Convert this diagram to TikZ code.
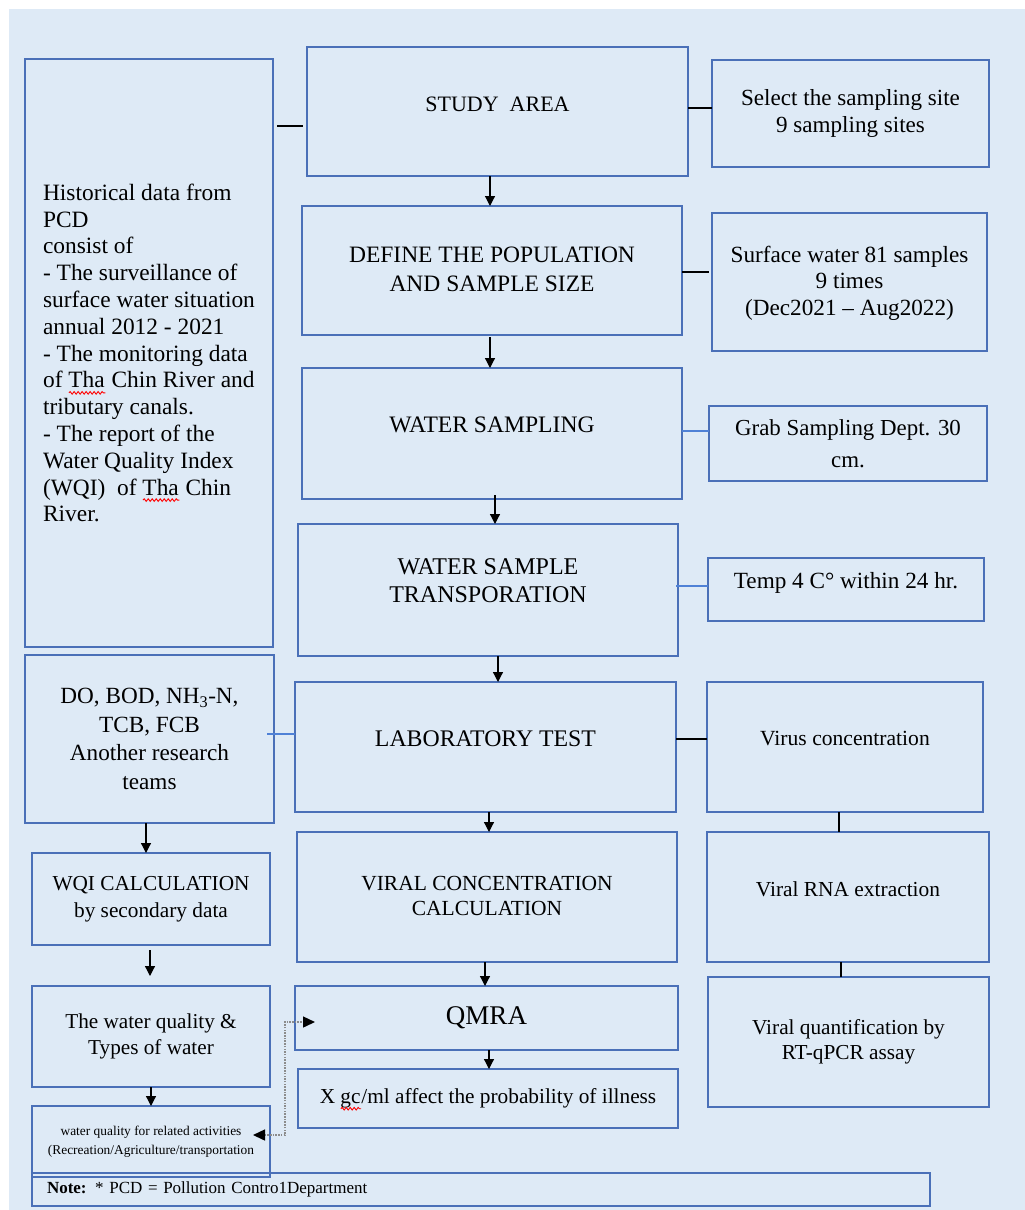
\documentclass[tikz,border=0pt]{standalone}
\usepackage{fontspec}
\setmainfont{Liberation Serif}
\usetikzlibrary{arrows.meta,calc,decorations.pathmorphing}
\definecolor{bgblue}{HTML}{DEEAF6}
\definecolor{edgeblue}{HTML}{4A70B8}
\definecolor{linkblue}{HTML}{4F81D6}
\definecolor{dotgray}{HTML}{8C8C8C}
\newdimen\wavewd
\newcommand\redwave[1]{\setbox0\hbox{#1}\wavewd=\wd0\leavevmode\rlap{\box0}\raisebox{-5pt}[0pt][0pt]{\tikz[x=1pt,y=1pt,baseline=0pt]\path[draw=red,line width=0.9pt,decorate,decoration={snake,amplitude=1.3pt,segment length=4pt}] (0,0) -- (\wavewd,0);}}
% #1 text options, #2..#5 corners, #6 name, #7 text, #8 text raise
\newcommand\bx[8][]{\node[box,anchor=north west,minimum width={(#4-#2)*1pt},minimum height={(#5-#3)*1pt}] (#6) at (#2,#3) {};
  \node[boxtext,#1] (#6-t) at ([yshift=#8]#6.center) {#7};}
\newcommand\fs[2]{\fontsize{#1}{#2}\selectfont}
\begin{document}
\begin{tikzpicture}[x=1pt,y=-1pt,
  box/.style={draw=edgeblue,line width=1.3pt,inner sep=0pt,outer sep=0pt},
  boxtext/.style={inner sep=0pt,align=center,font=\fs{23.2}{27}},
  arr/.style={-{Triangle[length=10pt,width=10pt]},line width=1.2pt,black},
  link/.style={line width=1.2pt,black},
  bluelink/.style={line width=1.2pt,linkblue},
  dotlink/.style={{Triangle[length=12pt,width=11pt,color=black]}-{Triangle[length=12pt,width=11pt,color=black]},line width=1.4pt,dotgray,dash pattern=on 1.5pt off 1.2pt}]
\useasboundingbox (0,0) rectangle (1025,1210);
\fill[white] (0,0) rectangle (1025,1210);
\fill[bgblue] (9,9) rectangle (1025,1210);

% left column
\bx[align=left,font=\fs{23.4}{26.8}]{25}{59}{273}{647}{hist}{Historical data from\\PCD\\consist of\\- The surveillance of\\surface water situation\\annual 2012 - 2021\\- The monitoring data\\of \redwave{Tha} Chin River and\\tributary canals.\\- The report of the\\Water Quality Index\\(WQI)~ of \redwave{Tha} Chin\\River.}{0pt}
\bx[font=\fs{23.2}{28.5}]{25}{655}{274}{823}{do}{DO, BOD, NH\textsubscript{3}-N,\\TCB, FCB\\Another research\\teams}{0pt}
\bx[font=\fs{21.3}{27}]{32}{853}{270}{945}{wqi}{WQI CALCULATION\\by secondary data}{0pt}
\bx[font=\fs{21.2}{25.5}]{32}{986}{270}{1087}{wq}{The water quality \&\\Types of water}{0pt}
\bx[font=\fs{13.4}{19}]{32}{1106}{270}{1177}{act}{water quality for related activities\\(Recreation/Agriculture/transportation}{0pt}
\bx[align=left,text width=868pt,font=\fs{17}{20}]{32}{1173}{930}{1206}{note}{\textbf{Note:} * PCD = Pollution Contro1Department}{0pt}

% middle column
\bx[font=\fs{22}{27}]{307}{47}{688}{176}{study}{STUDY~ AREA}{7.5pt}
\bx[font=\fs{23.5}{29}]{302}{206}{682}{335}{define}{DEFINE THE POPULATION\\AND SAMPLE SIZE}{1pt}
\bx[font=\fs{23.6}{27}]{302}{368}{682}{499}{wsamp}{WATER SAMPLING}{8.5pt}
\bx[font=\fs{24}{28}]{298}{524}{678}{656}{trans}{WATER SAMPLE\\TRANSPORATION}{9pt}
\bx[font=\fs{23.8}{27}]{295}{682}{676}{812}{lab}{LABORATORY TEST}{8pt}
\bx[font=\fs{21.5}{24.5}]{297}{832}{677}{962}{vcalc}{VIRAL CONCENTRATION\\CALCULATION}{1pt}
\bx[font=\fs{27}{30}]{295}{986}{678}{1050}{qmra}{QMRA}{0pt}
\bx[font=\fs{21.3}{27}]{298}{1069}{678}{1128}{xgc}{X \redwave{gc}/ml affect the probability of illness}{0pt}

% right column
\bx[font=\fs{23.1}{27}]{712}{60}{989}{167}{select}{Select the sampling site\\9 sampling sites}{0pt}
\bx[font=\fs{23.2}{26.5}]{712}{213}{987}{351}{surface}{Surface water 81 samples\\9 times\\(Dec2021 -- Aug2022)}{-1pt}
\bx[font=\fs{22.9}{32}]{709}{406}{987}{481}{grab}{Grab Sampling Dept. 30\\cm.}{0pt}
\bx[font=\fs{23.2}{27}]{708}{558}{984}{621}{temp}{Temp 4 C\textdegree\ within 24 hr.}{7pt}
\bx[font=\fs{21.6}{27}]{707}{682}{983}{812}{virus}{Virus concentration}{8pt}
\bx[font=\fs{21.4}{27}]{707}{832}{989}{962}{rna}{Viral RNA extraction}{8pt}
\bx[font=\fs{21.3}{25.5}]{708}{977}{989}{1107}{quant}{Viral quantification by\\RT-qPCR assay}{0pt}

% side connectors
\draw[link] ([xshift=4pt]hist.east |- 0,126) -- ([xshift=-4pt]study.west |- 0,126);
\draw[link] (study.east |- 0,108) -- (select.west |- 0,108);
\draw[link] (define.east |- 0,272) -- ([xshift=-3pt]surface.west |- 0,272);
\draw[bluelink] (wsamp.east |- 0,431) -- (grab.west |- 0,431);
\draw[bluelink] ([xshift=-2pt]trans.east |- 0,586) -- (temp.west |- 0,586);
\draw[bluelink] ([xshift=-7pt]do.east |- 0,734) -- (lab.west |- 0,734);
\draw[link] (lab.east |- 0,739) -- (virus.west |- 0,739);
\draw[link] (virus.south -| 839,0) -- (rna.north -| 839,0);
\draw[link] (rna.south -| 841,0) -- (quant.north -| 841,0);

% flow arrows
\draw[arr] (study.south -| 490,0) -- (define.north -| 490,0);
\draw[arr] ([yshift=-2pt]define.south -| 490,0) -- (wsamp.north -| 490,0);
\draw[arr] ([yshift=4pt]wsamp.south -| 495,0) -- (trans.north -| 495,0);
\draw[arr] (trans.south -| 498,0) -- (lab.north -| 498,0);
\draw[arr] (lab.south -| 489,0) -- (vcalc.north -| 489,0);
\draw[arr] (vcalc.south -| 485,0) -- (qmra.north -| 485,0);
\draw[arr] (qmra.south -| 489,0) -- (xgc.north -| 489,0);
\draw[arr] (do.south -| 146,0) -- (wqi.north -| 146,0);
\draw[arr] ([yshift=-5pt]wqi.south -| 150,0) -- ([yshift=10pt]wq.north -| 150,0);
\draw[arr] (wq.south -| 151,0) -- (act.north -| 151,0);

% dotted two-way connector
\coordinate (dA) at ([xshift=20pt]qmra.west |- 0,1022);
\coordinate (dB) at ([xshift=-17pt]act.east |- 0,1135);
\coordinate (dC) at (285,1135);
\draw[dotlink] (dB) -- (dC) |- (dA);
\end{tikzpicture}
\end{document}
